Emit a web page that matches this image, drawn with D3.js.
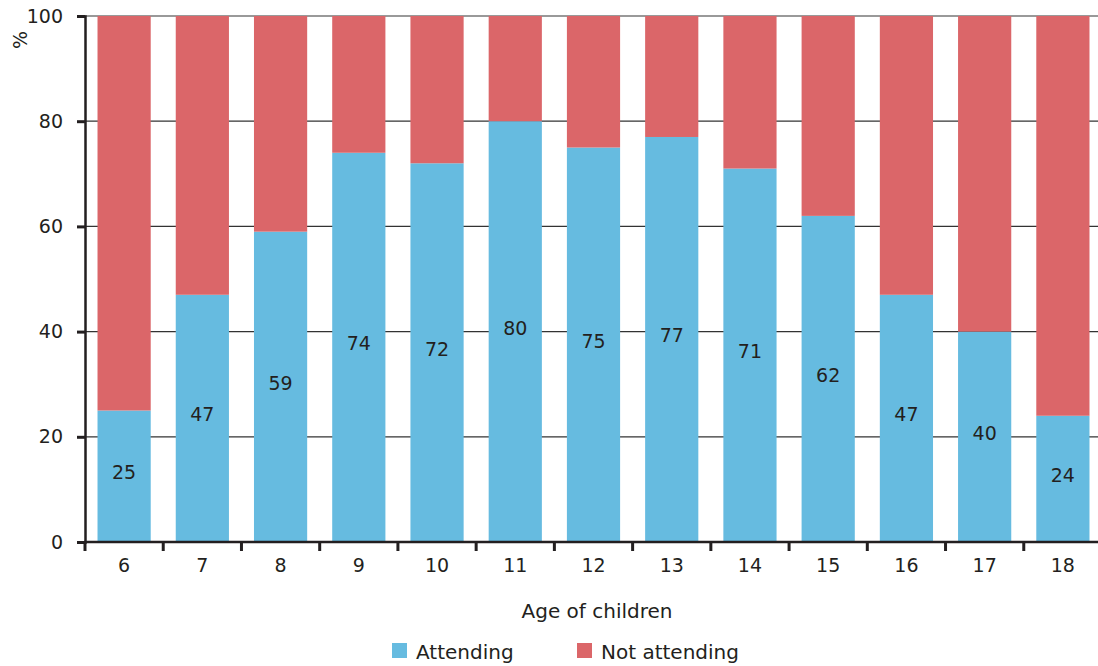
<!DOCTYPE html>
<html><head><meta charset="utf-8">
<script src="https://cdn.jsdelivr.net/npm/d3@7"></script>
<style>body{margin:0;background:#fff}svg{display:block;font-family:"DejaVu Sans",sans-serif}</style>
</head><body><svg id="c" width="1098" height="666"></svg>
<script>
const categories = ["6","7","8","9","10","11","12","13","14","15","16","17","18"];
const attending = [25,47,59,74,72,80,75,77,71,62,47,40,24];
const notAttending = attending.map(v => 100 - v);
const yTicks = [0,20,40,60,80,100];
const seriesNames = ["Attending","Not attending"];
const colors = ["#66bbe0","#db6669"];
const textColor = "#231f20";
const fontFam = "'DejaVu Sans',sans-serif";

const svg = d3.select("#c");
const x = d3.scaleBand().domain(categories).range([85,1102]).paddingInner(0.32).paddingOuter(0.16);
const y = d3.scaleLinear().domain([0,100]).range([542,16]);

// gridlines
svg.append("g").selectAll("line").data(yTicks.filter(d=>d>0)).join("line")
  .attr("x1",85).attr("x2",1098).attr("y1",d=>y(d)).attr("y2",d=>y(d))
  .attr("stroke",d=>d===100?"#999":"#333").attr("stroke-width",d=>d===100?2:1.2);

const rows = categories.map((c,i)=>({c, a:attending[i], n:notAttending[i]}));
const stack = d3.stack().keys(["a","n"])(rows);
svg.append("g").selectAll("g").data(stack).join("g").attr("fill",(d,i)=>colors[i])
  .selectAll("rect").data(d=>d).join("rect")
  .attr("x",d=>x(d.data.c)).attr("width",x.bandwidth())
  .attr("y",d=>y(d[1])).attr("height",d=>y(d[0])-y(d[1]));

// value labels
svg.append("g").selectAll("text").data(rows).join("text")
  .attr("x",d=>x(d.c)+x.bandwidth()/2).attr("y",d=>(y(d.a)+y(0))/2-4)
  .attr("text-anchor","middle").attr("dominant-baseline","central")
  .attr("font-size",19).attr("fill",textColor).text(d=>d.a);

// y axis
const yAxis = svg.append("g").attr("transform","translate(85,0)")
  .call(d3.axisLeft(y).tickValues(yTicks).tickSize(8).tickPadding(14));
yAxis.select(".domain").attr("stroke","#231f20").attr("stroke-width",2.5);
yAxis.selectAll(".tick line").attr("stroke","#231f20").attr("stroke-width",3);
yAxis.selectAll(".tick text").attr("font-size",19).attr("fill",textColor).attr("font-family",fontFam);

// x axis
svg.append("line").attr("x1",84).attr("x2",1098).attr("y1",y(0)).attr("y2",y(0)).attr("stroke","#231f20").attr("stroke-width",2.5);
const bounds = categories.map(c => x(c) - x.step()*x.paddingInner()/2);
svg.append("g").selectAll("line").data(bounds).join("line")
  .attr("x1",d=>d).attr("x2",d=>d).attr("y1",y(0)).attr("y2",y(0)+9)
  .attr("stroke","#231f20").attr("stroke-width",3);
svg.append("g").selectAll("text").data(categories).join("text")
  .attr("x",d=>x(d)+x.bandwidth()/2).attr("y",565).attr("dominant-baseline","central")
  .attr("text-anchor","middle").attr("font-size",19).attr("fill",textColor).text(d=>d);

svg.append("text").attr("x",597).attr("y",611).attr("dominant-baseline","central")
  .attr("text-anchor","middle").attr("font-size",20).attr("fill",textColor).text("Age of children");
svg.append("text").attr("transform","translate(20,40) rotate(-90)").attr("dominant-baseline","central")
  .attr("text-anchor","middle").attr("font-size",19).attr("fill",textColor).text("%");

// legend
const legendX = [392,577];
const lg = svg.append("g").selectAll("g").data(seriesNames).join("g")
  .attr("transform",(d,i)=>`translate(${legendX[i]},643)`);
lg.append("rect").attr("width",15).attr("height",15).attr("fill",(d,i)=>colors[i]);
lg.append("text").attr("x",24).attr("y",9).attr("dominant-baseline","central")
  .attr("font-size",20).attr("fill",textColor).text(d=>d);
</script></body></html>
